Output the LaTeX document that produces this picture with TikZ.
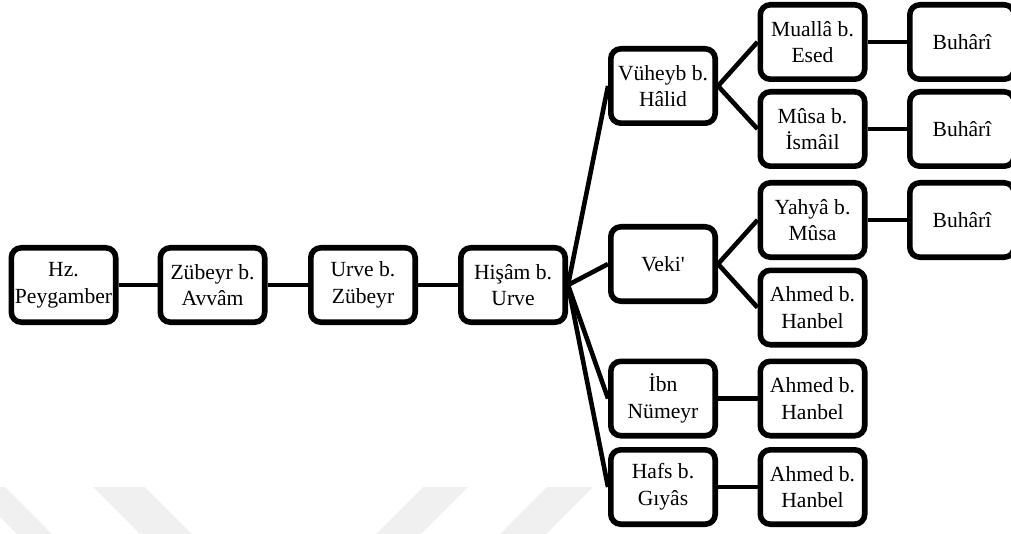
\documentclass[tikz,border=0pt]{standalone}
\usepackage{fontspec}
\setmainfont{Liberation Serif}
\usetikzlibrary{positioning}
\tikzset{
  isim/.style={draw, line width=2.8pt, rounded corners=5pt, minimum width=52.2pt, minimum height=37.2pt, align=center, inner sep=1pt, font=\fontsize{10.8}{13.3}\selectfont},
  bag/.style={line width=2.3pt},
  filigran/.style={fill=black!6}
}
\begin{document}
\begin{tikzpicture}[x=0.5pt,y=-0.5pt]
\path[use as bounding box, clip] (0,0) rectangle (1011,534);
% soluk zemin desenleri
\fill[filigran] (-30,487) -- (5,487) -- (52,534) -- (17,534) -- cycle;
\fill[filigran] (93,487) -- (145,487) -- (192,534) -- (140,534) -- cycle;
\fill[filigran] (423,487) -- (468,487) -- (421,534) -- (376,534) -- cycle;
\fill[filigran] (547,487) -- (593,487) -- (546,534) -- (500,534) -- cycle;
% ana zincir
\node[isim] (hz) at (63.5,285) {Hz.\\Peygamber};
\node[isim] (zubeyr) at (212.5,285) {Zübeyr b.\\Avvâm};
\node[isim] (urve) at (363,285) {Urve b.\\Zübeyr};
\node[isim] (hisam) at (513,285) {Hişâm b.\\Urve};
% birinci kol
\node[isim] (vuheyb) at (663,86) {Vüheyb b.\\Hâlid};
\node[isim] (veki) at (663,264) {Veki\textquotesingle};
\node[isim] (numeyr) at (663,398.5) {İbn\\Nümeyr};
\node[isim] (hafs) at (663,487) {Hafs b.\\Gıyâs};
% ikinci kol
\node[isim] (mualla) at (812.5,42) {Muallâ b.\\Esed};
\node[isim] (musa) at (812.5,129) {Mûsa b.\\İsmâil};
\node[isim] (yahya) at (812.5,220) {Yahyâ b.\\Mûsa};
\node[isim] (ahmedA) at (812.5,307.5) {Ahmed b.\\Hanbel};
\node[isim] (ahmedB) at (812.5,398.5) {Ahmed b.\\Hanbel};
\node[isim] (ahmedC) at (812.5,487) {Ahmed b.\\Hanbel};
% ucuncu kol
\node[isim] (buhariA) at (962,42) {Buhârî};
\node[isim] (buhariB) at (962,129) {Buhârî};
\node[isim] (buhariC) at (962,220) {Buhârî};
% baglantilar
\draw[bag] (hz) -- (zubeyr);
\draw[bag] (zubeyr) -- (urve);
\draw[bag] (urve) -- (hisam);
\foreach \k in {vuheyb,veki,numeyr,hafs}
  \draw[bag] (hisam.east) -- (\k.west);
\draw[bag] (vuheyb.east) -- (mualla.west);
\draw[bag] (vuheyb.east) -- (musa.west);
\draw[bag] (veki.east) -- (yahya.west);
\draw[bag] (veki.east) -- (ahmedA.west);
\draw[bag] (numeyr) -- (ahmedB);
\draw[bag] (hafs) -- (ahmedC);
\draw[bag] (mualla) -- (buhariA);
\draw[bag] (musa) -- (buhariB);
\draw[bag] (yahya) -- (buhariC);
\end{tikzpicture}
\end{document}
